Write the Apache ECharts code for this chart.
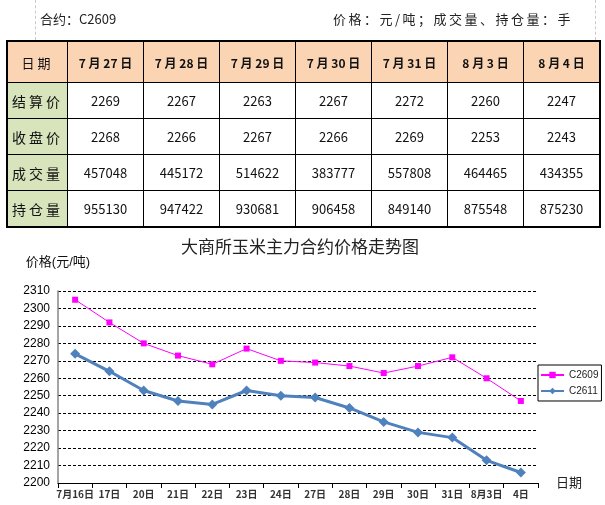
<!DOCTYPE html>
<html>
<head>
<meta charset="utf-8">
<script src="https://cdn.jsdelivr.net/npm/echarts@6/dist/echarts.min.js"></script>
<style>
  html, body { margin: 0; padding: 0; background: #fff; }
  #page { position: relative; width: 605px; height: 505px; overflow: hidden; }
  #chart { position: absolute; left: 0; top: 0; width: 605px; height: 505px; }
  .guide { position: absolute; top: 0; height: 40px; border-left: 1px dashed #c8c8c8; }
  .head { position: absolute; top: 9px; font: 13px "Noto Sans CJK SC", sans-serif; color: #222; }
  #tbl { position: absolute; left: 6px; top: 40px; border-collapse: collapse; border: 2px solid #000;
         font-family: "Noto Sans CJK SC", sans-serif; color: #111; z-index: 2; table-layout: fixed; }
  #tbl td { border: 1px solid #000; text-align: center; padding: 0; font-size: 13px; white-space: nowrap; }
  #tbl tr.hd td { background: #fbd4b4; font-weight: bold; height: 40px; font-size: 12px; }
  #tbl td.lab { background: #d7e4bc; width: 59px; letter-spacing: 3px; font-size: 14px; }
  #tbl tr.hd td.lab { background: #fbd4b4; font-weight: normal; font-size: 13px; }
  #tbl tr.row td { height: 35px; }
</style>
</head>
<body>
<div id="page">
  <div id="chart"></div>
  <div class="guide" style="left:35px"></div>
  <div class="guide" style="left:595px"></div>
  <div class="head" style="left:40px">合约：C2609</div>
  <div class="head" style="left:333px; letter-spacing: 2.5px">价格：元/吨；成交量、持仓量：手</div>
  <table id="tbl"></table>
</div>
<script>
// 表格数据
const tableDates = ['7 月 27 日', '7 月 28 日', '7 月 29 日', '7 月 30 日', '7 月 31 日', '8 月 3 日', '8 月 4 日']
const settlePrice = [2269, 2267, 2263, 2267, 2272, 2260, 2247]
const closePrice = [2268, 2266, 2267, 2266, 2269, 2253, 2243]
const volume = [457048, 445172, 514622, 383777, 557808, 464465, 434355]
const openInterest = [955130, 947422, 930681, 906458, 849140, 875548, 875230]

// 走势图数据
const dateCats = ['7月16日', '17日', '20日', '21日', '22日', '23日', '24日', '27日', '28日', '29日', '30日', '31日', '8月3日', '4日']
const c2609 = [2305, 2292, 2280, 2273, 2268, 2277, 2270, 2269, 2267, 2263, 2267, 2272, 2260, 2247]
const c2611 = [2274, 2264, 2253, 2247, 2245, 2253, 2250, 2249, 2243, 2235, 2229, 2226, 2213, 2206]
const yMin = 2200
const yMax = 2310
const yStep = 10

function buildTable() {
  const rows = [
    ['日期', tableDates, 'hd'],
    ['结算价', settlePrice, 'row'],
    ['收盘价', closePrice, 'row'],
    ['成交量', volume, 'row'],
    ['持仓量', openInterest, 'row']
  ]
  let html = ''
  rows.forEach(([label, vals, cls]) => {
    html += '<tr class="' + cls + '"><td class="lab">' + label + '</td>'
    vals.forEach(v => { html += '<td style="width:75px">' + v + '</td>' })
    html += '</tr>'
  })
  document.getElementById('tbl').innerHTML = html
}
buildTable()

const chart = echarts.init(document.getElementById('chart'))
const font = '"Liberation Sans", "Noto Sans CJK SC", sans-serif'

chart.setOption({
  backgroundColor: '#fff',
  animation: false,
  title: {
    text: '大商所玉米主力合约价格走势图',
    left: 176,
    top: 233,
    textStyle: { fontSize: 17, fontWeight: 'normal', color: '#222', fontFamily: '"Noto Sans CJK SC", sans-serif' }
  },
  legend: {
    orient: 'vertical',
    left: 538,
    top: 365,
    borderColor: '#000',
    borderWidth: 1,
    padding: [5, 3, 5, 2],
    itemWidth: 23,
    itemHeight: 8,
    itemGap: 6,
    itemTextGap: 3,
    textStyle: { fontSize: 10, color: '#222', fontFamily: font },
    data: ['C2609', 'C2611']
  },
  grid: { left: 58, right: 67, top: 291, bottom: 22, containLabel: false },
  xAxis: {
    type: 'category',
    data: dateCats,
    boundaryGap: true,
    name: '日期',
    nameLocation: 'end',
    nameGap: 18,
    nameTextStyle: { fontSize: 13, color: '#222', fontFamily: font, padding: [0, 0, 4, 0] },
    axisLine: { lineStyle: { color: '#000', width: 1 } },
    axisTick: { show: true, length: 5, lineStyle: { color: '#000' } },
    axisLabel: { interval: 0, fontSize: 10, fontWeight: 'bold', color: '#333', margin: 6, fontFamily: '"Noto Sans CJK SC", sans-serif' }
  },
  yAxis: {
    type: 'value',
    min: yMin,
    max: yMax,
    interval: yStep,
    name: '价格(元/吨)',
    nameLocation: 'end',
    nameGap: 22,
    nameTextStyle: { fontSize: 13, color: '#111', fontFamily: font },
    axisLine: { show: true, lineStyle: { color: '#868686', width: 1.5 } },
    axisTick: { show: false },
    axisLabel: { fontSize: 12, color: '#000', margin: 8, fontFamily: font, formatter: v => String(v) },
    splitLine: { show: true, lineStyle: { color: '#000', type: [3, 2], width: 1 } }
  },
  series: [
    {
      name: 'C2609',
      type: 'line',
      data: c2609,
      symbol: 'rect',
      symbolSize: 6,
      color: '#ff00ff',
      lineStyle: { width: 1, color: '#ff00ff' },
      itemStyle: { color: '#ff00ff' }
    },
    {
      name: 'C2611',
      type: 'line',
      data: c2611,
      symbol: 'diamond',
      symbolSize: 10,
      color: '#4f81bd',
      lineStyle: { width: 3, color: '#4f81bd' },
      itemStyle: { color: '#4f81bd' }
    }
  ]
})
</script>
</body>
</html>
